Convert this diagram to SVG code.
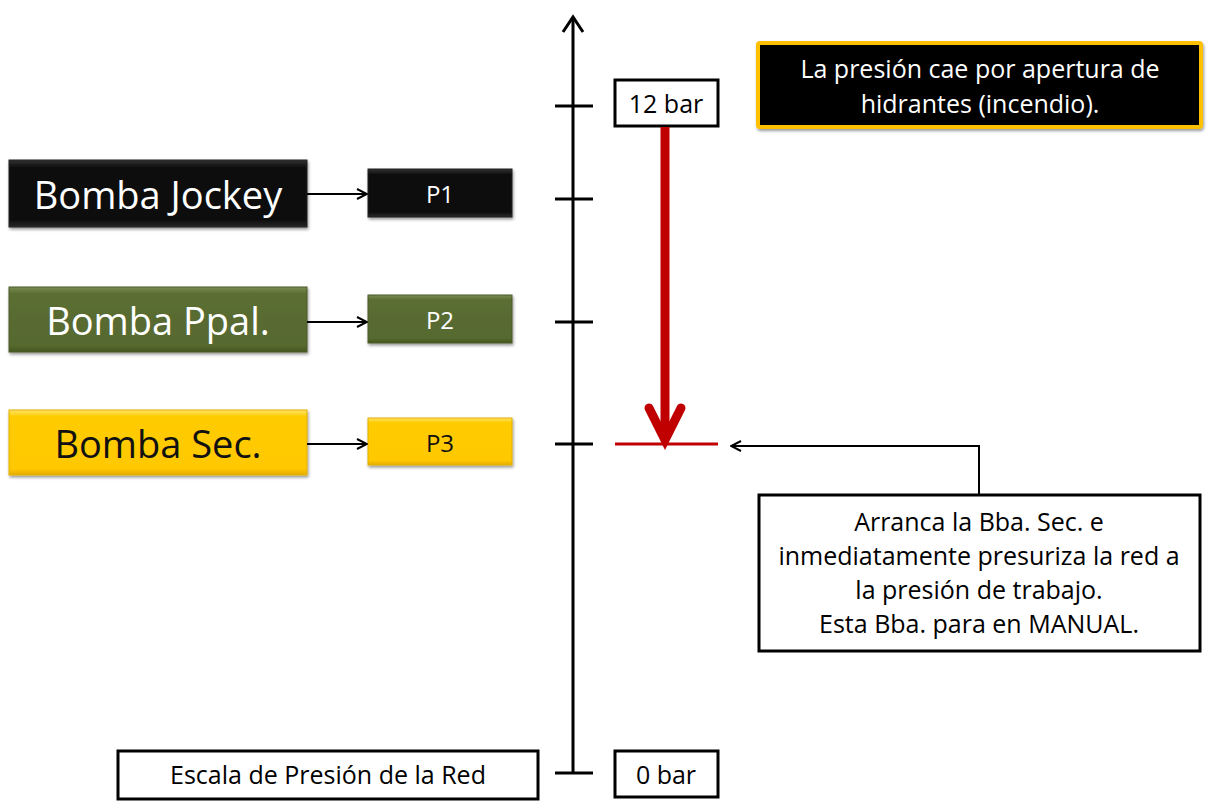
<svg xmlns="http://www.w3.org/2000/svg" width="1208" height="809" viewBox="0 0 1208 809">
<defs>
<style>
.t{font-family:"Open Sans","Liberation Sans",sans-serif;text-anchor:middle;dominant-baseline:central}
.ln{stroke:#000;stroke-width:2;fill:none}
.tick{stroke:#000;stroke-width:3}
.wb{fill:#fff;stroke:#000;stroke-width:3}
</style>
<filter id="sh" x="-5%" y="-10%" width="115%" height="130%"><feDropShadow dx="1" dy="2" stdDeviation="1.5" flood-color="#000" flood-opacity="0.4"/></filter>
<linearGradient id="gk" x1="0" y1="0" x2="0" y2="1"><stop offset="0" stop-color="#333"/><stop offset="0.1" stop-color="#111"/><stop offset="0.9" stop-color="#0d0d0d"/><stop offset="1" stop-color="#2a2a2a"/></linearGradient>
<linearGradient id="gg" x1="0" y1="0" x2="0" y2="1"><stop offset="0" stop-color="#7a8e52"/><stop offset="0.1" stop-color="#5b6e33"/><stop offset="0.9" stop-color="#56692f"/><stop offset="1" stop-color="#46561f"/></linearGradient>
<linearGradient id="gy" x1="0" y1="0" x2="0" y2="1"><stop offset="0" stop-color="#ffe36a"/><stop offset="0.1" stop-color="#ffcc00"/><stop offset="0.9" stop-color="#ffc800"/><stop offset="1" stop-color="#e6ad00"/></linearGradient>
<marker id="ar" viewBox="0 0 12 12" refX="11" refY="6" markerWidth="12" markerHeight="12" markerUnits="userSpaceOnUse" orient="auto"><path d="M1,1 L11,6 L1,11" fill="none" stroke="#000" stroke-width="2"/></marker>
</defs>
<rect width="1208" height="809" fill="#fff"/>
<g id="axis">
<line x1="573" y1="18" x2="573" y2="773" stroke="#000" stroke-width="3"/>
<path d="M563,32 L573,17 L583,32" fill="none" stroke="#000" stroke-width="3"/>
<line class="tick" x1="555" y1="106" x2="593" y2="106"/>
<line class="tick" x1="555" y1="199" x2="593" y2="199"/>
<line class="tick" x1="555" y1="322" x2="593" y2="322"/>
<line class="tick" x1="555" y1="444" x2="593" y2="444"/>
<line class="tick" x1="555" y1="773" x2="593" y2="773"/>
</g>
<g id="n12bar"><rect class="wb" x="615" y="80" width="103" height="46"/><text class="t" x="666" y="103" font-size="25">12 bar</text></g>
<g id="n0bar"><rect class="wb" x="615" y="751" width="103" height="46"/><text class="t" x="666" y="774" font-size="25">0 bar</text></g>
<g id="escala"><rect class="wb" x="118" y="751" width="420" height="48"/><text class="t" x="328" y="774" font-size="25">Escala de Presión de la Red</text></g>
<g id="jockey"><rect x="9" y="160" width="298" height="67" fill="url(#gk)" stroke="#222" filter="url(#sh)"/><text class="t" x="158" y="194" font-size="38" fill="#fff">Bomba Jockey</text></g>
<g id="ppal"><rect x="9" y="287" width="298" height="65" fill="url(#gg)" stroke="#4a5a28" filter="url(#sh)"/><text class="t" x="158" y="320" font-size="38" fill="#fff">Bomba Ppal.</text></g>
<g id="sec"><rect x="9" y="410" width="298" height="65" fill="url(#gy)" stroke="#e0b000" filter="url(#sh)"/><text class="t" x="158" y="443" font-size="38" fill="#111">Bomba Sec.</text></g>
<g id="p1"><rect x="368" y="169" width="144" height="48" fill="url(#gk)" stroke="#222" filter="url(#sh)"/><text class="t" x="440" y="193" font-size="24" fill="#fff">P1</text></g>
<g id="p2"><rect x="368" y="295" width="144" height="48" fill="url(#gg)" stroke="#4a5a28" filter="url(#sh)"/><text class="t" x="440" y="319" font-size="24" fill="#fff">P2</text></g>
<g id="p3"><rect x="368" y="418" width="144" height="47" fill="url(#gy)" stroke="#e0b000" filter="url(#sh)"/><text class="t" x="440" y="442" font-size="24" fill="#111">P3</text></g>
<g id="top"><rect x="758" y="43" width="443" height="84" fill="#000" stroke="#ffc000" stroke-width="4" rx="2" filter="url(#sh)"/><text class="t" x="980" y="68" font-size="25" fill="#fff">La presión cae por apertura de</text><text class="t" x="980" y="103" font-size="25" fill="#fff">hidrantes (incendio).</text></g>
<g id="note"><rect class="wb" x="759" y="495" width="441" height="156"/>
<text class="t" x="979" y="521" font-size="25">Arranca la Bba. Sec. e</text>
<text class="t" x="979" y="555" font-size="25">inmediatamente presuriza la red a</text>
<text class="t" x="979" y="589" font-size="25">la presión de trabajo.</text>
<text class="t" x="979" y="623" font-size="25">Esta Bba. para en MANUAL.</text></g>
<g id="connectors">
<line class="ln" x1="307" y1="194" x2="367" y2="194" marker-end="url(#ar)"/>
<line class="ln" x1="307" y1="322" x2="367" y2="322" marker-end="url(#ar)"/>
<line class="ln" x1="307" y1="444" x2="367" y2="444" marker-end="url(#ar)"/>
<polyline class="ln" points="979,495 979,446 731,446" marker-end="url(#ar)"/>
<line x1="615" y1="444" x2="718" y2="444" stroke="#c00000" stroke-width="3"/>
<line x1="665" y1="127" x2="665" y2="438" stroke="#c00000" stroke-width="9"/>
<path d="M649,408 L665,440 L681,408" fill="none" stroke="#c00000" stroke-width="9" stroke-linecap="round" stroke-linejoin="miter"/>
</g>
</svg>
